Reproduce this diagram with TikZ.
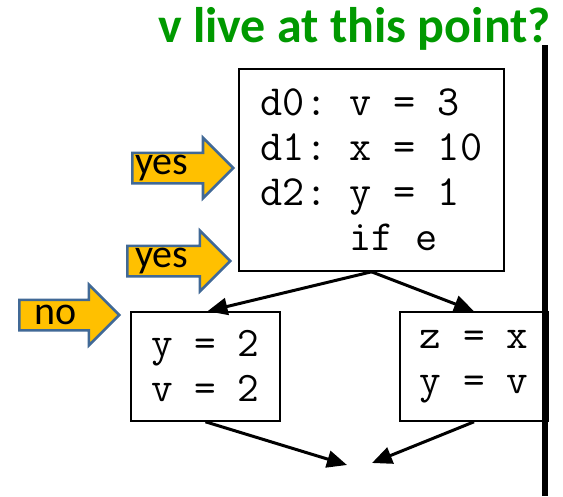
\documentclass[tikz,border=0pt]{standalone}
\usepackage{fontspec}
\setmainfont{Carlito}
\usetikzlibrary{shapes.arrows,arrows.meta}
\definecolor{titlegreen}{RGB}{0,153,0}
\definecolor{hintfill}{RGB}{255,192,0}
\definecolor{hintline}{RGB}{65,105,150}

\begin{document}
\begin{tikzpicture}[
x=1pt, y=-1pt,
box/.style={
draw,
line width=1.6pt,
inner sep=0pt,
font=\fontsize{42}{45}\selectfont\ttfamily\frenchspacing
},
flow/.style={-{Triangle[length=20pt,width=17pt]}, line width=3pt},
hint/.style={
single arrow,
draw=hintline,
fill=hintfill,
line width=2.5pt,
inner xsep=0pt,
inner ysep=14pt,
single arrow head extend=15pt,
anchor=tail
},
hinttext/.style={font=\fontsize{40}{48}\selectfont, text=black, inner sep=4pt, anchor=west}
]
\useasboundingbox (0,0) rectangle (563,496);

\node[anchor=base west, inner sep=0pt, text=titlegreen,
  font=\fontsize{50}{60}\selectfont\bfseries] (title) at (158,42) {v live at this point?};

% blocks
\node[box, font=\fontsize{43}{45}\selectfont\ttfamily\frenchspacing, minimum width=265pt, minimum height=202pt, align=left] (entry) at (371.5,170)
  {d0: v = 3\\d1: x = 10\\d2: y = 1\\\hphantom{d2: }if e};
\node[box, minimum width=149pt, minimum height=109pt, align=center] (left) at (205.5,366.5) {y = 2\\v = 2};
\node[box, minimum width=148pt, minimum height=109pt, align=center] (right) at (474,366.5) {z = x\\y = v};

\coordinate (meetL) at (347,465);
\coordinate (meetR) at (372,463);

\draw[flow] (entry.south) -- ([xshift=2pt]left.north);
\draw[flow] (entry.south) -- (right.north);
\draw[flow] (left.south) -- (meetL);
\draw[flow] (right.south) -- (meetR);

% program point marker
\draw[line width=6pt] (544.5,45) -- (544.5,496);

% answers
\node[hint, minimum height=101pt, label={[hinttext]west:yes}] (yesA) at (131,168) {};
\node[hint, minimum height=103pt, label={[hinttext, xshift=5pt]west:yes}] (yesB) at (126,261) {};
\node[hint, minimum height=100pt, label={[hinttext, xshift=12pt]west:no}] (noC) at (18,315) {};

\end{tikzpicture}
\end{document}
